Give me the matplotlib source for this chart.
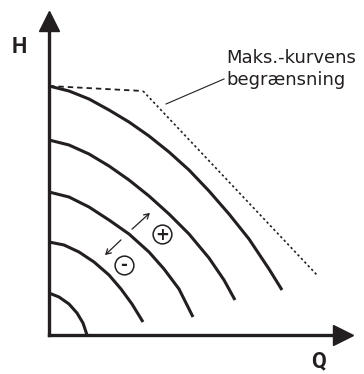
import numpy as np
import matplotlib.pyplot as plt

curve1_q = [0, 20, 40, 60, 80, 100, 120, 140, 160, 180, 200, 220, 233]
curve1_h = [249, 244, 236, 225, 213, 199, 183, 165, 144, 121, 96, 66, 45]
curve2_q = [0, 20, 40, 60, 80, 100, 120, 140, 160, 175, 186]
curve2_h = [195, 190, 181, 169, 155, 139, 121, 101, 77, 55, 35]
curve3_q = [0, 20, 40, 60, 80, 100, 115, 130, 144]
curve3_h = [143, 138, 128, 115, 101, 83, 66, 46, 18]
curve4_q = [0, 15, 30, 45, 60, 72, 83, 94]
curve4_h = [93, 90, 83, 73, 60, 46, 31, 13]
curve5_q = [0, 10, 20, 28, 34, 38]
curve5_h = [42, 38, 31, 22, 12, 0]
curves = [(curve1_q, curve1_h), (curve2_q, curve2_h), (curve3_q, curve3_h),
          (curve4_q, curve4_h), (curve5_q, curve5_h)]

# max curve limit
limit_flat_q = [0, 94]
limit_flat_h = [249, 244]
limit_slope_q = [94, 268]
limit_slope_h = [244, 60]

label_limit = ["Maks.-kurvens", "begrænsning"]
label_plus = "+"
label_minus = "-"

ink = "#231f20"

fig = plt.figure(figsize=(3.64, 3.74), dpi=100)
ax = fig.add_axes([0, 0, 1, 1])
ax.set_xlim(-49, 315)
ax.set_ylim(-39, 335)

for q, h in curves:
    ax.plot(q, h, color=ink, lw=2.2, solid_capstyle="butt", solid_joinstyle="round")

ax.plot(limit_flat_q, limit_flat_h, color=ink, lw=1.3, linestyle=(0, (3, 2.2)))
ax.plot(limit_slope_q, limit_slope_h, color=ink, lw=1.2, linestyle=(0, (1.4, 1.6)))

# leader line + label
ax.plot([117, 175], [231, 256], color=ink, lw=0.8)
ax.text(177, 272, label_limit[0], fontsize=13, family="DejaVu Sans", color=ink,
        ha="left", va="baseline")
ax.text(177, 250, label_limit[1], fontsize=13, family="DejaVu Sans", color=ink,
        ha="left", va="baseline")

# +/- arrows
ax.annotate("", xy=(103, 124), xytext=(81, 104),
            arrowprops=dict(arrowstyle="->,head_length=0.35,head_width=0.2", color=ink, lw=0.9))
ax.annotate("", xy=(54, 78), xytext=(74, 97),
            arrowprops=dict(arrowstyle="->,head_length=0.35,head_width=0.2", color=ink, lw=0.9))
for x, y, s, dy in [(113, 101, label_plus, -1.0), (75, 70, label_minus, 0.5)]:
    ax.plot(x, y, "o", ms=13.5, mfc="white", mec=ink, mew=1.1)
    ax.text(x, y + dy, s, fontsize=12, fontweight="bold", family="DejaVu Sans",
            color=ink, ha="center", va="center")

# axes with arrowheads
for s in ["top", "right"]:
    ax.spines[s].set_visible(False)
ax.spines["left"].set_position(("data", 0))
ax.spines["bottom"].set_position(("data", 0))
ax.spines["left"].set_bounds(0, 306)
ax.spines["bottom"].set_bounds(0, 286)
for s in ["left", "bottom"]:
    ax.spines[s].set_linewidth(2.4)
    ax.spines[s].set_color(ink)
ax.set_xticks([])
ax.set_yticks([])
ax.plot(0, 314, "^", ms=14.5, color=ink, clip_on=False)
ax.plot(294, 0, ">", ms=14.5, color=ink, clip_on=False)

ax.text(-30, 288, "H", fontsize=15.5, fontweight="bold", family="Roboto", color=ink,
        ha="center", va="center")
ax.text(270, -26, "Q", fontsize=15.5, fontweight="bold", family="Roboto", color=ink,
        ha="center", va="center")

fig.savefig("out.png", dpi=100)
